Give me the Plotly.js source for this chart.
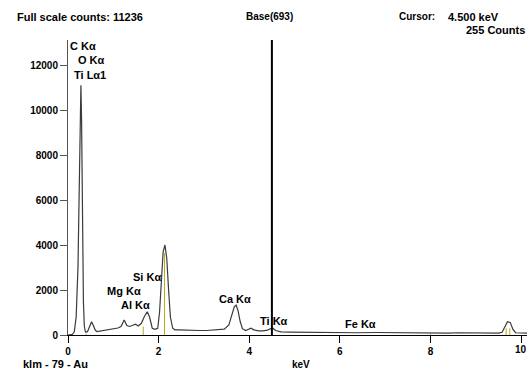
<!DOCTYPE html>
<html>
<head>
<meta charset="utf-8">
<script src="https://cdn.plot.ly/plotly-3.0.1.min.js"></script>
<style>
html,body{margin:0;padding:0;background:#fff;}
#chart{width:527px;height:370px;}
</style>
</head>
<body>
<div id="chart"></div>
<script>
// Spectrum (keV, counts)
const energy = [0.00,0.05,0.10,0.14,0.18,0.22,0.25,0.27,0.285,0.30,0.32,0.34,0.36,0.385,0.43,0.47,0.52,0.56,0.60,0.64,0.70,0.80,0.90,1.00,1.10,1.17,1.24,1.30,1.36,1.42,1.49,1.55,1.62,1.68,1.75,1.80,1.86,1.92,1.98,2.02,2.06,2.10,2.14,2.18,2.22,2.26,2.31,2.36,2.45,2.55,2.65,2.75,2.90,3.05,3.20,3.35,3.45,3.55,3.62,3.67,3.71,3.75,3.80,3.85,3.92,3.98,4.04,4.10,4.20,4.30,4.40,4.48,4.52,4.58,4.70,4.90,5.20,5.60,6.00,6.40,6.80,7.20,7.60,8.00,8.40,8.60,8.80,9.20,9.50,9.58,9.64,9.70,9.76,9.82,9.88,9.95,10.13];
const counts = [0,0,30,150,800,3000,8000,10500,11100,9500,5000,1500,400,130,150,350,590,420,220,150,170,210,240,280,310,380,670,420,380,420,480,400,520,800,1035,800,300,250,300,1000,2500,3700,4000,3400,2000,800,300,230,230,220,200,210,200,200,210,230,260,450,900,1250,1330,1100,600,280,200,260,300,230,180,180,220,290,300,200,140,130,120,110,110,100,110,100,90,90,80,100,90,80,80,120,350,590,560,250,100,90,80];

// Element marker lines (keV, height in counts)
const markerE = [0.40, 1.66, 2.13, 8.00, 9.67, 9.75];
const markerH = [60, 370, 3640, 60, 300, 300];

// Cursor
const cursorE = 4.5;

// Peak labels
const peakLabels = ["C Kα","O Kα","Ti Lα1","Si Kα","Mg Kα","Al Kα","Ca Kα","Ti Kα","Fe Kα"];
const peakLabelE = [0.00,0.52,0.486,1.74,1.225,1.49,3.69,4.55,6.45];
const peakLabelC = [12845,12222,11555,2578,1955,1333,1600,622,489];

// Axis ticks
const xTicks = [0,2,4,6,8,10];
const yTicks = [0,2000,4000,6000,8000,10000,12000];

const yMax = 13111, xMax = 10.13;

const mx = [], my = [];
markerE.forEach((e,i)=>{ mx.push(e,e,null); my.push(0,markerH[i],null); });

const traces = [
  {x: mx, y: my, mode:'lines', line:{color:'#b5ad1a', width:1}, hoverinfo:'skip', showlegend:false},
  {x: energy, y: counts, mode:'lines', line:{color:'#3a3a3a', width:1.2}, showlegend:false},
  {x:[cursorE,cursorE], y:[0,yMax], mode:'lines', line:{color:'#000', width:2}, showlegend:false}
];

const F = 'Liberation Sans, Arial, sans-serif';
const ann = peakLabels.map((t,i)=>({
  x: peakLabelE[i], y: peakLabelC[i], xref:'x', yref:'y', text:t, showarrow:false,
  xanchor: i===0 ? 'left' : 'center', yanchor:'middle',
  font:{family:F, size:11, color:'#000', weight:'bold'}
}));
function pa(px, py, text, xanchor, size){
  return {x:(px-68)/459, y:(335-py)/295, xref:'paper', yref:'paper', text:text, showarrow:false,
    xanchor:xanchor, yanchor:'middle', font:{family:F, size:size, color:'#000', weight:'bold'}};
}
ann.push(pa(15,17,'Full scale counts: 11236','left',11));
ann.push(pa(269,17,'Base(693)','center',10));
ann.push(pa(397,17,'Cursor:','left',10));
ann.push(pa(446,17,'4.500 keV','left',11));
ann.push(pa(527,30,'255 Counts','right',11));
ann.push(pa(21,364,'klm - 79 - Au','left',11));
ann.push(pa(290,364,'keV','left',10));
// last x tick label, which would otherwise be hidden at the edge
ann.push({x: xTicks[xTicks.length-1], y:(335-349)/295, xref:'x', yref:'paper', text:String(xTicks[xTicks.length-1]),
  showarrow:false, xanchor:'center', yanchor:'middle', font:{family:F, size:10, color:'#000', weight:'bold'}});

const layout = {
  width:527, height:370,
  margin:{l:68, r:0, t:40, b:35, pad:0},
  paper_bgcolor:'#fff', plot_bgcolor:'#fff',
  showlegend:false,
  xaxis:{range:[0,xMax], tickvals:xTicks, ticktext:xTicks.map((v,i)=> i===xTicks.length-1 ? '' : String(v)), showgrid:false, zeroline:false,
    showline:true, linecolor:'#000', linewidth:1, ticks:'outside', ticklen:7, tickcolor:'#000',
    tickfont:{family:F, size:10, color:'#000', weight:'bold'}},
  yaxis:{range:[0,yMax], tickvals:yTicks, ticktext:yTicks.map(String), showgrid:false, zeroline:false,
    showline:true, linecolor:'#555', linewidth:1, ticks:'outside', ticklen:7, tickcolor:'#555',
    tickfont:{family:F, size:10, color:'#000', weight:'bold'}},
  annotations: ann
};
Plotly.newPlot('chart', traces, layout, {displayModeBar:false, staticPlot:true});
</script>
</body>
</html>
